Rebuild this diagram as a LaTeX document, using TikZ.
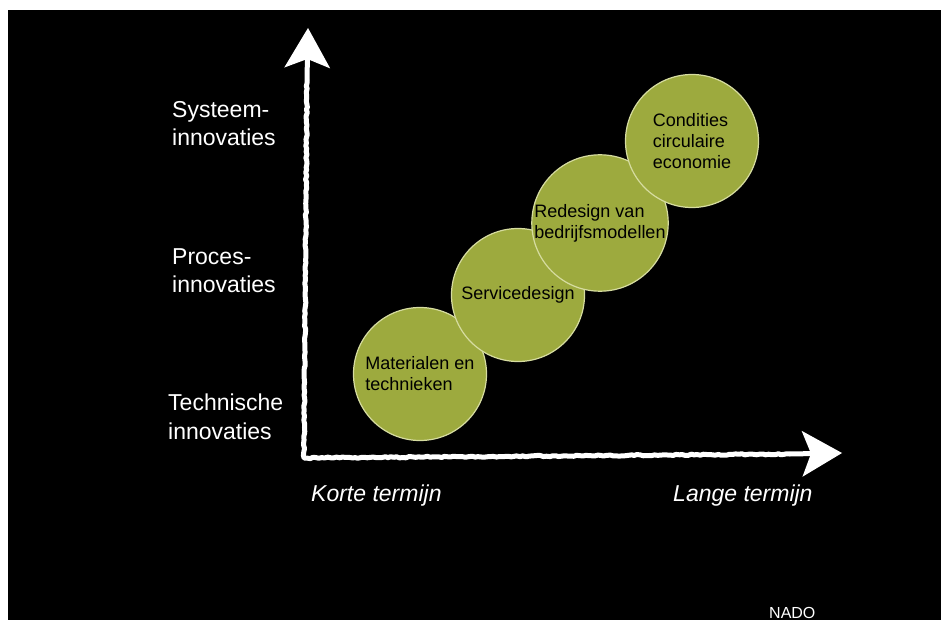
\documentclass[tikz,border=0pt]{standalone}
\usepackage{fontspec}
\setmainfont{Liberation Sans}
\usetikzlibrary{arrows.meta,decorations.pathmorphing}
\definecolor{olijf}{RGB}{157,170,62}
\definecolor{rand}{RGB}{214,220,160}
\begin{document}
\begin{tikzpicture}
[x=1pt, y=-1pt,
 bol/.style ={circle, draw=rand, line width=1.2pt, fill=olijf, minimum size=133pt, inner sep=0pt, align=left, font=\fontsize{18}{21}\selectfont},
 krijt/.style ={draw=white, line width=5pt, line join=round, decorate, decoration={random steps, segment length=3pt, amplitude=.7pt}},
 punt/.style ={draw=white, line width=5pt, -{Stealth[length=40pt, width=46pt, inset=9pt, line width=0pt]}},
 lab/.style ={text=white, align=left, inner sep=0pt, anchor=north west, font=\fontsize{23}{28.5}\selectfont},
 term/.style ={text=white, inner sep=0pt, anchor=base west, font=\fontsize{23}{28}\selectfont\itshape}]
\useasboundingbox (0,0) rectangle (941,620);
\fill[black] (8,10) rectangle (941,620);
\coordinate (o) at (304,458);
\coordinate (ytop) at (308,28);
\coordinate (yhals) at (307,80);
\coordinate (xend) at (842,453);
\coordinate (xhals) at (790,454);
\draw[krijt] (yhals) -- (o) -- (xhals);
\draw[punt] (yhals) -- (ytop);
\draw[punt] (xhals) -- (xend);
\node[bol] (mat) at (420,374) {Materialen en\\technieken};
\node[bol] (ser) at (518,295) {Servicedesign};
\node[bol] (red) at (600,223) {Redesign van\\bedrijfsmodellen};
\node[bol] (con) at (692,141) {Condities\\circulaire\\economie};
\node[lab] (sys) at (172,101) {Systeem-\\innovaties};
\node[lab] (pro) at (172,248) {Proces-\\innovaties};
\node[lab] (tec) at (168,394) {Technische\\innovaties};
\node[term] (kort) at (311,501) {Korte termijn};
\node[term] (lang) at (673,501) {Lange termijn};
\node[text=white, inner sep=0pt, anchor=base west, font=\fontsize{16}{18}\selectfont] (nado) at (769,618) {NADO};
\end{tikzpicture}
\end{document}
